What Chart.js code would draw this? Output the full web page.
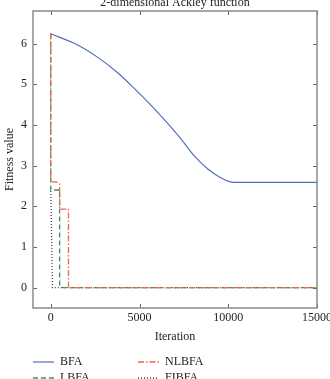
<!DOCTYPE html>
<html>
<head>
<meta charset="utf-8">
<script src="https://cdn.jsdelivr.net/npm/chart.js@4.4.1/dist/chart.umd.min.js"></script>
<style>
html,body{margin:0;padding:0;background:#fff;}
#wrap{position:relative;width:330px;height:379px;overflow:hidden;}
</style>
</head>
<body>
<div id="wrap"><canvas id="c" width="330" height="379"></canvas></div>
<script>
const titleText = "2-dimensional Ackley function";
const xTicks = [0, 5000, 10000, 15000];
const yTicks = [0, 1, 2, 3, 4, 5, 6];
const seriesNames = ["BFA", "LBFA", "NLBFA", "FIBFA"];

const bfaX = [0, 1542, 2655, 3802, 4746, 5763, 7288, 8023, 8814, 9548, 10113, 10300, 15000];
const bfaY = [6.24, 5.96, 5.66, 5.27, 4.88, 4.43, 3.68, 3.27, 2.93, 2.71, 2.60, 2.59, 2.59];

const lbfaX = [0, 0, 500, 500, 700, 15000];
const lbfaY = [6.25, 2.40, 2.40, 0.04, 0.0, 0.0];

const nlbfaX = [0, 0, 300, 500, 500, 1000, 1000, 15000];
const nlbfaY = [6.25, 2.60, 2.60, 2.55, 1.93, 1.93, 0.0, 0.0];

const fibfaX = [0, 0, 100, 15000];
const fibfaY = [2.45, 2.45, 0.0, 0.0];

const colors = ["#4f70b8", "#3f8f63", "#e66a4c", "#444444"];
const dashes = [[], [5, 3], [6, 2, 1.5, 2], [1, 2]];

function pts(xs, ys){ return xs.map((x,i)=>({x:x, y:ys[i]})); }
const allX = [bfaX, lbfaX, nlbfaX, fibfaX];
const allY = [bfaY, lbfaY, nlbfaY, fibfaY];

const FONT = "'Liberation Serif', 'DejaVu Serif', serif";

const extras = {
  id: 'extras',
  afterDraw(chart){
    const ctx = chart.ctx;
    const a = chart.chartArea;
    const xs = chart.scales.x, ys = chart.scales.y;
    ctx.save();
    ctx.strokeStyle = '#666';
    ctx.lineWidth = 1;
    ctx.setLineDash([]);
    const L = 4;
    xTicks.forEach(v=>{
      const px = Math.round(xs.getPixelForValue(v)) + 0.5;
      ctx.beginPath(); ctx.moveTo(px, a.bottom); ctx.lineTo(px, a.bottom - L); ctx.stroke();
      ctx.beginPath(); ctx.moveTo(px, a.top); ctx.lineTo(px, a.top + L); ctx.stroke();
    });
    yTicks.forEach(v=>{
      const py = Math.round(ys.getPixelForValue(v)) + 0.5;
      ctx.beginPath(); ctx.moveTo(a.left, py); ctx.lineTo(a.left + L, py); ctx.stroke();
      ctx.beginPath(); ctx.moveTo(a.right, py); ctx.lineTo(a.right - L, py); ctx.stroke();
    });
    ctx.strokeStyle = '#8a8a8a';
    ctx.lineWidth = 1.5;
    ctx.strokeRect(a.left, a.top, a.right - a.left, a.bottom - a.top);
    ctx.fillStyle = '#222';
    ctx.font = "12px " + FONT;
    ctx.textAlign = 'center';
    ctx.textBaseline = 'middle';
    ctx.fillText(titleText, (a.left + a.right)/2, 3);
    const leg = [
      {i:0, x:33, y:362}, {i:2, x:138, y:362},
      {i:1, x:33, y:378}, {i:3, x:138, y:378}
    ];
    ctx.textAlign = 'left';
    leg.forEach(o=>{
      ctx.strokeStyle = colors[o.i];
      ctx.lineWidth = o.i === 0 ? 1.2 : 1.3;
      ctx.setLineDash(dashes[o.i]);
      ctx.beginPath(); ctx.moveTo(o.x, o.y); ctx.lineTo(o.x + 21, o.y); ctx.stroke();
      ctx.setLineDash([]);
      ctx.fillStyle = '#222';
      ctx.fillText(seriesNames[o.i], o.x + 27, o.y);
    });
    ctx.restore();
  }
};

new Chart(document.getElementById('c'), {
  type: 'line',
  data: {
    datasets: seriesNames.map((n, i) => ({
      label: n,
      data: pts(allX[i], allY[i]),
      borderColor: colors[i],
      backgroundColor: colors[i],
      borderWidth: i === 0 ? 1.2 : 1.3,
      borderDash: dashes[i],
      pointRadius: 0,
      tension: 0,
      cubicInterpolationMode: i === 0 ? 'monotone' : 'default',
      fill: false,
      order: [4, 2, 1, 3][i]
    }))
  },
  options: {
    responsive: false,
    animation: false,
    devicePixelRatio: 1,
    layout: { padding: { left: 0, right: 13, top: 11, bottom: 33 } },
    plugins: { legend: { display: false }, tooltip: { enabled: false }, title: { display: false } },
    scales: {
      x: {
        type: 'linear',
        min: -1000, max: 15000,
        afterBuildTicks(s){ s.ticks = xTicks.map(v=>({value:v})); },
        afterFit(s){ s.height = 38; s.paddingLeft = 0; s.paddingRight = 0; },
        grid: { display: false, drawTicks: false },
        border: { display: false },
        ticks: { color: '#222', font: { family: FONT, size: 12 }, padding: 3, maxRotation: 0, autoSkip: false, callback: v => String(v) },
        title: { display: true, text: 'Iteration', color: '#222', font: { family: FONT, size: 12 }, padding: { top: 2, bottom: 2 } }
      },
      y: {
        type: 'linear',
        min: -0.5, max: 6.8,
        afterBuildTicks(s){ s.ticks = yTicks.map(v=>({value:v})); },
        afterFit(s){ s.width = 33; s.paddingTop = 0; s.paddingBottom = 0; },
        grid: { display: false, drawTicks: false },
        border: { display: false },
        ticks: { color: '#222', font: { family: FONT, size: 12 }, padding: 6, autoSkip: false },
        title: { display: true, text: 'Fitness value', color: '#222', font: { family: FONT, size: 12 }, padding: { top: 3, bottom: 0 } }
      }
    }
  },
  plugins: [extras]
});
</script>
</body>
</html>
